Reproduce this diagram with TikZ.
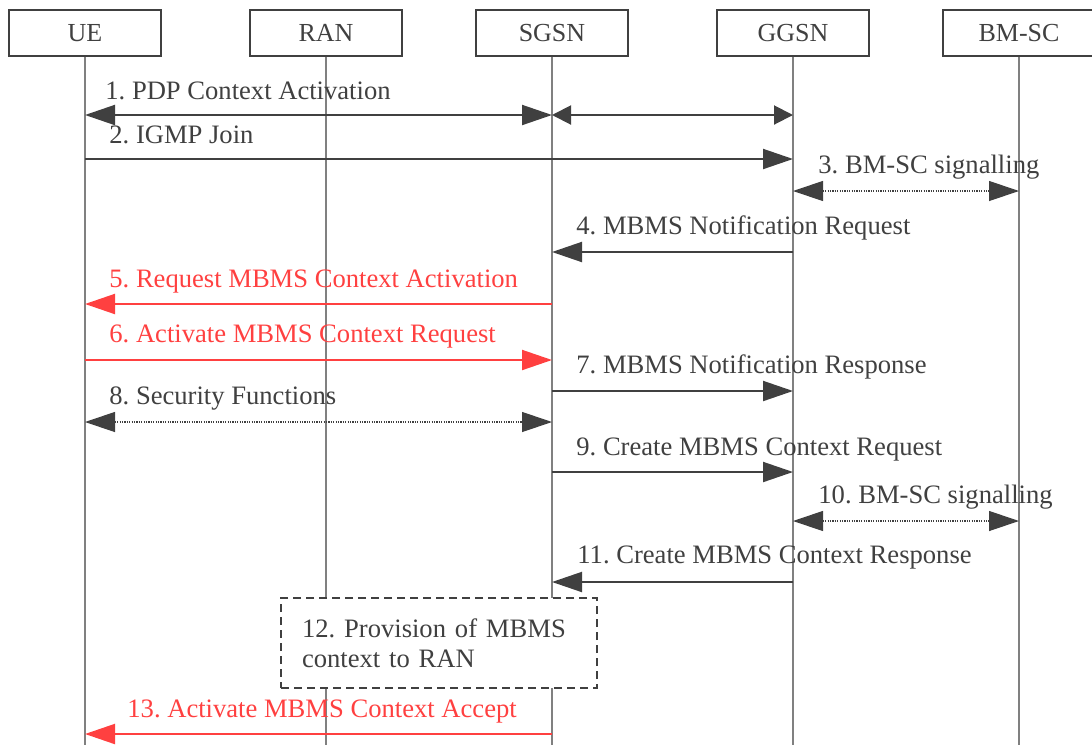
\documentclass[tikz,border=0pt]{standalone}
\usepackage{fontspec}
\setmainfont{Liberation Serif}
\usetikzlibrary{arrows.meta}
\definecolor{ink}{HTML}{404040}
\definecolor{redink}{HTML}{FF4040}
\definecolor{life}{HTML}{808080}
\begin{document}
\frenchspacing
\begin{tikzpicture}[x=0.5pt,y=-0.5pt,
  actor/.style={draw=ink, line width=0.75pt, minimum width=76pt, minimum height=23pt, inner sep=0pt, text=ink, font=\fontsize{13}{15}\selectfont},
  lifeline/.style={draw=life, line width=0.6pt},
  msg/.style={draw=ink, line width=1pt, -{Triangle[length=15pt,width=10pt]}},
  bimsg/.style={draw=ink, line width=1pt, {Triangle[length=15pt,width=10pt]}-{Triangle[length=15pt,width=10pt]}},
  shortbi/.style={draw=ink, line width=1pt, {Triangle[length=9.5pt,width=9.5pt]}-{Triangle[length=9.5pt,width=9.5pt]}},
  dotbi/.style={draw=ink, line width=0.6pt, dash pattern=on 0.6pt off 0.6pt, {Triangle[length=15pt,width=10pt]}-{Triangle[length=15pt,width=10pt]}},
  redmsg/.style={draw=redink, line width=1pt, -{Triangle[length=15pt,width=10pt]}},
  lbl/.style={anchor=base west, inner sep=0pt, text=ink, font=\fontsize{13.3}{15}\selectfont\frenchspacing},
  redlbl/.style={lbl, text=redink},
  procbox/.style={draw=ink, fill=white, line width=1pt, dash pattern=on 4pt off 2.5pt, anchor=north west, minimum width=158pt, minimum height=45pt, inner xsep=10.5pt, inner ysep=0pt, text width=137pt, align=left, text=ink, font=\fontsize{13.3}{15}\selectfont\frenchspacing}
]
\useasboundingbox (0,0) rectangle (1092,745);
\clip (0,0) rectangle (1092,745);

% actors
\node[actor] (ue)   at (85,33)   {UE};
\node[actor] (ran)  at (326,33)  {RAN};
\node[actor] (sgsn) at (552,33)  {SGSN};
\node[actor] (ggsn) at (793,33)  {GGSN};
\node[actor] (bmsc) at (1019,33) {BM-SC};

% lifelines
\foreach \n in {ue,ran,sgsn,ggsn,bmsc}
  \draw[lifeline] (\n.south) -- (\n.south |- 0,745);

% messages
\draw[bimsg]   (ue |- 0,115) -- (sgsn |- 0,115);
\draw[shortbi] (sgsn |- 0,115) -- (ggsn |- 0,115);
\node[lbl] (l1) at (105,99) {1. PDP Context Activation};

\draw[msg] (ue |- 0,159) -- (ggsn |- 0,159);
\node[lbl] (l2) at (109,143) {2. IGMP Join};

\draw[dotbi] (ggsn |- 0,191) -- (bmsc |- 0,191);
\node[lbl] (l3) at (818,173) {3. BM-SC signalling};

\draw[msg] (ggsn |- 0,252) -- (sgsn |- 0,252);
\node[lbl] (l4) at (576,234) {4. MBMS Notification Request};

\draw[redmsg] (sgsn |- 0,304) -- (ue |- 0,304);
\node[redlbl] (l5) at (109,287) {5. Request MBMS Context Activation};

\draw[redmsg] (ue |- 0,360) -- (sgsn |- 0,360);
\node[redlbl] (l6) at (109,342) {6. Activate MBMS Context Request};

\draw[msg] (sgsn |- 0,391) -- (ggsn |- 0,391);
\node[lbl] (l7) at (576,373) {7. MBMS Notification Response};

\draw[dotbi] (ue |- 0,422) -- (sgsn |- 0,422);
\node[lbl] (l8) at (109,404) {8. Security Functions};

\draw[msg] (sgsn |- 0,472) -- (ggsn |- 0,472);
\node[lbl] (l9) at (576,455) {9. Create MBMS Context Request};

\draw[dotbi] (ggsn |- 0,521) -- (bmsc |- 0,521);
\node[lbl] (l10) at (818,503) {10. BM-SC signalling};

\draw[msg] (ggsn |- 0,582) -- (sgsn |- 0,582);
\node[lbl] (l11) at (577,563) {11. Create MBMS Context Response};

\node[procbox] (prov) at (280,597) {12. Provision of MBMS\\context to RAN};

\draw[redmsg] (sgsn |- 0,734) -- (ue |- 0,734);
\node[redlbl] (l13) at (127,717) {13. Activate MBMS Context Accept};
\end{tikzpicture}
\end{document}
